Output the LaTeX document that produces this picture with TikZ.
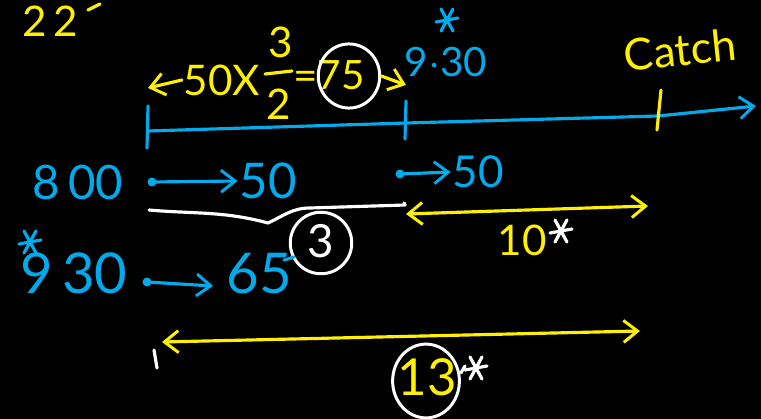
\documentclass[tikz,border=0pt]{standalone}
\usepackage{fontspec}
\setmainfont{Lato}
\usetikzlibrary{arrows.meta,shapes.geometric}
\definecolor{penblue}{RGB}{0,170,235}
\definecolor{penyellow}{RGB}{255,240,0}
\tikzset{
  pen/.style={line width=1.8pt, line cap=round, line join=round},
  bl/.style={pen, draw=penblue},
  yl/.style={pen, draw=penyellow},
  wh/.style={pen, draw=white},
  txt/.style={inner sep=0pt, outer sep=1.1pt},
  fs/.style={font=\fontsize{#1}{#1}\selectfont},
  btxt/.style={txt, text=penblue},
  ytxt/.style={txt, text=penyellow},
  wtxt/.style={txt, text=white},
  barb/.style={-{Straight Barb[length=8pt,width=12.5pt,line width=1.7pt]}},
  dbarb/.style={{Straight Barb[length=8pt,width=12.5pt,line width=1.7pt]}-{Straight Barb[length=8pt,width=12.5pt,line width=1.7pt]}},
  ring/.style={ellipse, draw=white, line width=1.7pt, inner sep=0pt},
  astr/.pic={\draw[pic actions] (-11,2)--(11,-2) (-6,-11)--(6,11) (6,-11)--(-6,11);}
}
\begin{document}
\begin{tikzpicture}[x=0.02cm,y=-0.02cm]
\fill[black] (0,0) rectangle (761,419);
\useasboundingbox (0,0) rectangle (761,419);
\clip (0,0) rectangle (761,419);

% top-left fragment
\node[ytxt,fs=24] (tl) at (50,21) {2\,2};
\coordinate (tlA) at (88,10);
\coordinate (tlB) at (100,4);
\draw[yl] (tlA) -- (tlB);

% top calculation
\node[ytxt,fs=24] (fx) at (222,80) {50X};
\node[ytxt,fs=24] (num) at (281,42) {3};
\node[ytxt,fs=24] (den) at (279,104) {2};
\coordinate (barL) at (265,74);
\coordinate (barR) at (292,71);
\draw[yl] (barL) -- (barR);
\node[ytxt,fs=24] (eq) at (306,81) {=};
\node[ytxt,fs=23] (sf) at (341,75) {75};
\node[ring, minimum width=35pt, minimum height=36.5pt] (c75) at (349,76) {};
\coordinate (la) at (148,88);
\coordinate (ra) at (406,85);
\draw[yl,barb] (fx.west) -- (la);
\draw[yl,barb] (c75.east) -- (ra);

\node[btxt,fs=23] (t930) at (446,62) {9$\cdot$30};
\pic[bl] at (447,20) {astr};

% time line
\coordinate (t0) at (148,131);
\coordinate (t1) at (406,123);
\coordinate (t2) at (658,116);
\coordinate (tend) at (756,106);
\draw[bl,barb] (t0) -- (t1) -- (t2) -- (tend);
\draw[bl] (148,106) -- (147,148);
\draw[bl] (406,101) -- (405,139);
\draw[yl] (661,90) -- (657,130);
\node[ytxt,fs=25,rotate=6] (catch) at (680,50) {Catch};

% row 8:00
\node[btxt,fs=27] (e800) at (78,183) {8\,00};
\coordinate (d1) at (152,182);
\node[btxt,fs=28] (f50a) at (268,181) {50};
\fill[penblue] (d1) circle (2.55pt);
\draw[bl,barb] (d1) -- (f50a.west);
\coordinate (d2) at (400,174);
\node[btxt,fs=25] (f50b) at (478,172) {50};
\fill[penblue] (d2) circle (2.55pt);
\draw[bl,barb] (d2) -- (f50b.west);

% brace and circled 3
\coordinate (bA) at (149,210);
\coordinate (bM) at (268,223);
\coordinate (bB) at (405,205);
\draw[wh] (bA) to[out=-5,in=165] (bM) to[out=25,in=180] (310,208) -- (bB) to[out=0,in=-90] (404,203);
\node[wtxt,fs=26] (three) at (321,241) {3};
\node[ring, minimum width=35pt, minimum height=35pt] (c3) at (321,243) {};

% 10 gap
\coordinate (gA) at (406,214);
\coordinate (gB) at (648,206);
\draw[yl,dbarb] (gA) -- (gB);
\node[ytxt,fs=24] (ten) at (522,240) {10};
\pic[wh] at (561,231) {astr};

% row 9:30
\pic[bl] at (30,242) {astr};
\node[btxt,fs=32] (n930) at (74,273) {9\,30};
\coordinate (d3) at (147,282);
\node[btxt,fs=32] (s65) at (259,274) {65};
\fill[penblue] (d3) circle (2.55pt);
\draw[bl,barb] (d3) -- (213,286);
\draw[bl] (284,260) -- (294,257);

% 13 gap
\coordinate (hA) at (162,342);
\coordinate (hB) at (640,331);
\draw[yl,dbarb] (hA) -- (hB);
\draw[wh] (154,350) -- (157,368);
\node[ytxt,fs=29] (thirteen) at (427,377) {13};
\node[ring, minimum width=38pt, minimum height=42pt] (c13) at (426,381) {};
\pic[wh] at (476,368) {astr};
\draw[wh] (c13.east) ++(0,-8) -- (465,366);
\end{tikzpicture}
\end{document}
